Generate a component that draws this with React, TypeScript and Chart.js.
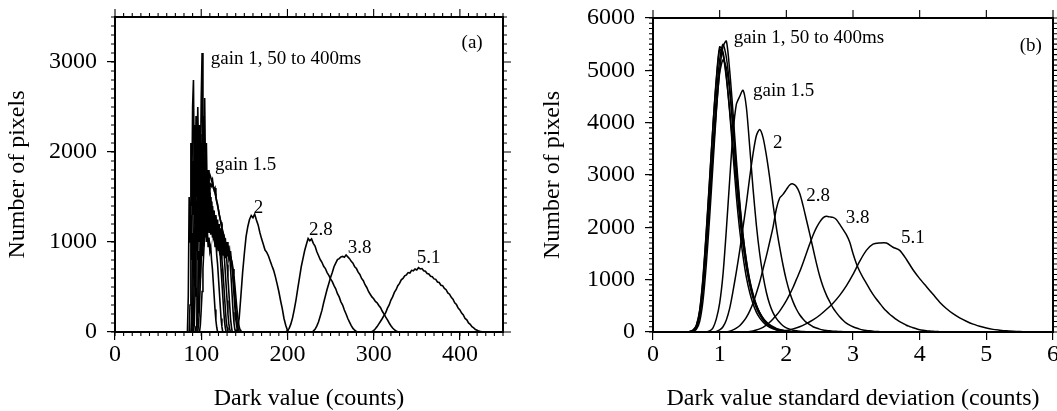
import React, { useEffect, useRef } from "react";
import { Chart, registerables } from "chart.js";

Chart.register(...registerables);

const FONT = '"Liberation Serif", "Times New Roman", serif';

// ---------------- Panel (a): dark value histograms ----------------
const aXTicks = [0, 100, 200, 300, 400];
const aYTicks = [0, 1000, 2000, 3000];

// gain 1 (50 to 400 ms) curves, 1-count bins
const aGain1Start = [84, 86, 88, 89, 90, 91, 93, 94];
const aGain1_1 = [0, 400, 1500, 1000, 2100, 1400, 2500, 2800, 1600, 2300, 1700, 2100, 1500, 1900, 1400, 1700, 1300, 1550, 1200, 1400, 1100, 1250, 1000, 1150, 950, 1050, 900, 950, 800, 700, 550, 400, 250, 130, 50, 0];
const aGain1_2 = [0, 300, 1300, 800, 1900, 1300, 2200, 1600, 2400, 1800, 2500, 1900, 2300, 1700, 2600, 3100, 1800, 2200, 1500, 1900, 1400, 1700, 1300, 1500, 1200, 1350, 1100, 1200, 1050, 1100, 950, 1000, 850, 750, 600, 450, 300, 150, 60, 0];
const aGain1_3 = [0, 200, 1100, 700, 1700, 1200, 2000, 1500, 2200, 1600, 2300, 1800, 2100, 1700, 2400, 2000, 2600, 1700, 2100, 1500, 1800, 1400, 1600, 1300, 1450, 1200, 1300, 1100, 1200, 1000, 1100, 950, 1000, 900, 850, 700, 550, 400, 250, 120, 40, 0];
const aGain1_4 = [0, 150, 900, 600, 1500, 1100, 1800, 1400, 2000, 1500, 2100, 1600, 2200, 1700, 2000, 1600, 1900, 1500, 1800, 1400, 1650, 1300, 1500, 1200, 1350, 1100, 1250, 1000, 1150, 950, 1050, 900, 1000, 850, 950, 800, 700, 550, 400, 250, 120, 50, 0];
const aGain1_5 = [0, 100, 700, 500, 1300, 900, 1600, 1200, 1800, 1300, 1900, 1400, 2000, 1500, 1850, 1400, 1750, 1350, 1650, 1300, 1550, 1250, 1450, 1200, 1350, 1100, 1250, 1050, 1150, 1000, 1100, 950, 1050, 900, 1000, 850, 950, 800, 650, 500, 350, 200, 90, 30, 0];
const aGain1_6 = [0, 80, 500, 400, 1100, 800, 1400, 1000, 1600, 1150, 1700, 1250, 1750, 1300, 1700, 1300, 1650, 1250, 1600, 1200, 1500, 1150, 1400, 1100, 1300, 1050, 1250, 1000, 1150, 950, 1100, 900, 1050, 880, 1000, 850, 950, 820, 900, 750, 600, 450, 300, 150, 60, 0];
const aGain1_7 = [0, 60, 400, 300, 900, 650, 1200, 900, 1400, 1000, 1500, 1100, 1550, 1150, 1550, 1150, 1500, 1100, 1450, 1100, 1400, 1050, 1350, 1050, 1300, 1000, 1250, 980, 1200, 950, 1150, 920, 1100, 900, 1050, 870, 1000, 850, 950, 820, 880, 700, 550, 380, 220, 100, 30, 0];
const aGain1_8 = [0, 50, 300, 250, 800, 600, 1100, 850, 1300, 950, 1400, 1050, 1450, 1100, 1450, 1100, 1400, 1080, 1380, 1050, 1330, 1020, 1280, 1000, 1230, 980, 1180, 950, 1150, 930, 1100, 900, 1080, 880, 1040, 860, 1000, 840, 960, 820, 900, 780, 700, 560, 420, 280, 150, 70, 20, 0];
const aGain1 = [aGain1_1, aGain1_2, aGain1_3, aGain1_4, aGain1_5, aGain1_6, aGain1_7, aGain1_8];

// gain 1.5 curves, 1-count bins
const aGain15Start = [96, 98];
const aGain15_1 = [0, 100, 300, 550, 800, 1000, 1150, 1300, 1400, 1500, 1580, 1650, 1620, 1700, 1750, 1720, 1680, 1700, 1620, 1580, 1600, 1500, 1450, 1420, 1350, 1300, 1250, 1220, 1150, 1100, 1080, 1030, 1000, 970, 950, 920, 900, 870, 840, 800, 720, 620, 500, 380, 260, 160, 80, 30, 10, 0];
const aGain15_2 = [0, 80, 250, 450, 700, 900, 1080, 1220, 1330, 1420, 1500, 1560, 1600, 1640, 1620, 1660, 1600, 1580, 1540, 1500, 1450, 1400, 1360, 1300, 1260, 1200, 1160, 1120, 1080, 1040, 1000, 970, 940, 910, 880, 860, 830, 800, 760, 700, 620, 520, 410, 300, 200, 120, 60, 25, 8, 0, 0];
const aGain15 = [aGain15_1, aGain15_2];

// higher gains, 2-count bins
const aGain2Start = 140;
const aGain2 = [0, 30, 150, 400, 660, 870, 1060, 1170, 1250, 1295, 1270, 1310, 1245, 1190, 1105, 1035, 975, 910, 885, 845, 790, 735, 685, 615, 535, 450, 350, 260, 150, 75, 20, 0];
const aGain28Start = 198;
const aGain28 = [0, 15, 40, 90, 160, 255, 360, 485, 605, 725, 815, 905, 975, 1040, 1015, 1035, 985, 955, 895, 850, 805, 775, 730, 705, 660, 630, 590, 560, 515, 480, 425, 390, 335, 300, 245, 200, 150, 110, 70, 40, 20, 5, 0];
const aGain38Start = 228;
const aGain38 = [0, 10, 30, 65, 110, 175, 240, 325, 400, 475, 540, 605, 660, 725, 765, 805, 815, 835, 840, 830, 855, 835, 815, 785, 765, 725, 705, 665, 640, 595, 570, 525, 495, 450, 420, 390, 370, 340, 325, 295, 270, 230, 200, 165, 135, 100, 70, 45, 25, 10, 3, 0];
const aGain51Start = 296;
const aGain51 = [0, 5, 15, 35, 60, 90, 120, 150, 185, 215, 265, 300, 355, 390, 440, 470, 515, 540, 580, 595, 625, 635, 660, 655, 685, 680, 700, 690, 715, 700, 705, 680, 675, 650, 645, 620, 615, 590, 585, 555, 550, 520, 515, 485, 470, 435, 420, 385, 365, 325, 305, 265, 245, 210, 190, 150, 135, 100, 85, 58, 45, 28, 20, 10, 6, 2, 0];

const aLabels = ["gain 1, 50 to 400ms", "gain 1.5", "2", "2.8", "3.8", "5.1", "(a)"];
const aLabelX = [111, 116, 161, 225, 270, 350, 402];
const aLabelY = [3030, 1855, 1380, 1135, 930, 820, 3210];

// ---------------- Panel (b): dark value standard deviation ----------------
const bXTicks = [0, 1, 2, 3, 4, 5, 6];
const bYTicks = [0, 1000, 2000, 3000, 4000, 5000, 6000];

const bGain1Start = 0.5;
const bGain1_1 = [0, 8, 30, 120, 400, 1000, 1900, 2900, 3950, 4850, 5450, 5350, 4900, 4200, 3400, 2600, 1950, 1450, 1050, 760, 540, 380, 270, 190, 130, 90, 60, 40, 28, 18, 12, 7, 4, 2, 0];
const bGain1_2 = [0, 5, 20, 80, 300, 800, 1600, 2550, 3550, 4500, 5200, 5500, 5250, 4700, 3900, 3050, 2300, 1700, 1250, 900, 650, 460, 330, 230, 160, 110, 75, 50, 35, 25, 15, 10, 5, 2, 0];
const bGain1_3 = [0, 3, 12, 50, 200, 600, 1300, 2200, 3200, 4200, 5000, 5450, 5560, 5000, 4200, 3300, 2500, 1850, 1350, 980, 700, 500, 360, 250, 170, 120, 80, 55, 38, 26, 17, 11, 6, 3, 0];
const bGain1_4 = [0, 6, 25, 100, 350, 850, 1650, 2500, 3400, 4250, 4950, 5200, 5050, 4600, 3900, 3150, 2450, 1850, 1380, 1000, 730, 520, 370, 260, 180, 125, 85, 58, 40, 27, 18, 11, 6, 3, 0];
const bGain1_5 = [0, 10, 35, 130, 420, 1050, 1950, 2950, 3950, 4800, 5400, 5300, 4850, 4250, 3550, 2850, 2200, 1680, 1270, 950, 700, 510, 370, 270, 195, 140, 100, 70, 50, 35, 24, 15, 9, 4, 0];
const bGain1 = [bGain1_1, bGain1_2, bGain1_3, bGain1_4, bGain1_5];

const bGain15Start = 0.8;
const bGain15 = [0, 20, 80, 250, 550, 1100, 1950, 2900, 3800, 4350, 4500, 4620, 4300, 3550, 2750, 2050, 1500, 1080, 760, 530, 370, 260, 180, 120, 80, 55, 35, 22, 14, 8, 4, 2, 0];
const bGain2Start = 0.9;
const bGain2 = [0, 10, 40, 100, 230, 450, 780, 1150, 1550, 2000, 2450, 2950, 3400, 3750, 3870, 3720, 3380, 2950, 2450, 2000, 1620, 1280, 990, 760, 580, 440, 330, 250, 185, 140, 100, 75, 55, 40, 30, 22, 16, 12, 9, 6, 4, 2, 0];
const bGain28Start = 1.1;
const bGain28 = [0, 15, 40, 75, 120, 190, 280, 400, 550, 740, 950, 1200, 1450, 1720, 2000, 2350, 2560, 2630, 2720, 2810, 2830, 2780, 2650, 2420, 2150, 1880, 1600, 1320, 1070, 870, 710, 580, 460, 370, 290, 225, 170, 130, 100, 75, 55, 40, 30, 22, 15, 10, 7, 4, 2, 1, 0];
const bGain38Start = 1.4;
const bGain38 = [0, 8, 20, 38, 60, 90, 130, 185, 250, 320, 400, 495, 600, 720, 850, 1000, 1150, 1320, 1500, 1680, 1850, 1990, 2100, 2180, 2210, 2200, 2190, 2150, 2060, 1960, 1860, 1720, 1500, 1310, 1160, 1040, 930, 820, 720, 630, 550, 470, 400, 340, 290, 240, 200, 165, 130, 105, 80, 62, 45, 34, 25, 19, 14, 10, 7, 5, 3, 2, 1, 0, 0];
const bGain51Start = 1.8;
const bGain51 = [0, 15, 30, 60, 100, 160, 230, 320, 430, 550, 700, 880, 1100, 1350, 1560, 1680, 1700, 1700, 1620, 1560, 1390, 1190, 1020, 870, 720, 570, 450, 350, 270, 205, 150, 110, 75, 50, 35, 22, 14, 8, 5, 2, 0];

const bLabels = ["gain 1, 50 to 400ms", "gain 1.5", "2", "2.8", "3.8", "5.1", "(b)"];
const bLabelX = [1.21, 1.5, 1.8, 2.3, 2.89, 3.72, 5.5];
const bLabelY = [5620, 4600, 3610, 2590, 2180, 1800, 5460];

// ------------------------------------------------------------------
type Pt = { x: number; y: number };
function toPoints(start: number, step: number, values: number[]): Pt[] {
  return values.map((v, i) => ({ x: Math.round((start + i * step) * 1000) / 1000, y: v }));
}

function lineDs(data: Pt[], smooth: boolean) {
  return {
    data,
    borderColor: "#000",
    borderWidth: smooth ? 1.5 : 1.6,
    pointRadius: 0,
    fill: false,
    tension: smooth ? 0.25 : 0,
  };
}

type FrameSpec = {
  xMinor: number | null;
  topMinor: number | null;
  topMajor: number;
  yMinor: number;
  rightMajor: number;
  labels: string[];
  lx: number[];
  ly: number[];
};

function framePlugin(spec: FrameSpec) {
  return {
    id: "frameAndNotes",
    afterDraw(chart: any) {
      const { ctx, chartArea: a, scales } = chart;
      const xs = scales.x;
      const ys = scales.y;
      ctx.save();
      ctx.strokeStyle = "#000";
      ctx.lineWidth = 2;
      ctx.beginPath();
      ctx.moveTo(a.left - 1, a.top);
      ctx.lineTo(a.right, a.top);
      ctx.lineTo(a.right, a.bottom + 1);
      ctx.stroke();

      ctx.lineWidth = 1.1;
      ctx.beginPath();
      const xSteps = (step: number, fn: (px: number) => void) => {
        const n = Math.round((xs.max - xs.min) / step);
        for (let i = 0; i <= n; i++) fn(xs.getPixelForValue(xs.min + i * step));
      };
      const ySteps = (step: number, fn: (py: number) => void) => {
        const n = Math.round((ys.max - ys.min) / step);
        for (let i = 0; i <= n; i++) fn(ys.getPixelForValue(ys.min + i * step));
      };
      if (spec.xMinor) {
        xSteps(spec.xMinor, (px) => {
          ctx.moveTo(px, a.bottom);
          ctx.lineTo(px, a.bottom + 4);
        });
      }
      if (spec.topMinor) {
        xSteps(spec.topMinor, (px) => {
          ctx.moveTo(px, a.top);
          ctx.lineTo(px, a.top - 4);
        });
      }
      xSteps(spec.topMajor, (px) => {
        ctx.moveTo(px, a.top);
        ctx.lineTo(px, a.top - 8);
      });
      ySteps(spec.yMinor, (py) => {
        ctx.moveTo(a.left, py);
        ctx.lineTo(a.left - 4, py);
      });
      ySteps(spec.yMinor, (py) => {
        ctx.moveTo(a.right, py);
        ctx.lineTo(a.right + 4, py);
      });
      ySteps(spec.rightMajor, (py) => {
        ctx.moveTo(a.right, py);
        ctx.lineTo(a.right + 8, py);
      });
      ctx.stroke();

      ctx.fillStyle = "#000";
      ctx.font = `19px ${FONT}`;
      ctx.textAlign = "left";
      ctx.textBaseline = "middle";
      spec.labels.forEach((t, i) => {
        ctx.fillText(t, xs.getPixelForValue(spec.lx[i]), ys.getPixelForValue(spec.ly[i]));
      });
      ctx.restore();
    },
  };
}

function fitX(h: number) {
  return (s: any) => {
    s.height = h;
    s.paddingLeft = 0;
    s.paddingRight = 0;
  };
}
function fitY(w: number) {
  return (s: any) => {
    s.width = w;
    s.paddingTop = 0;
    s.paddingBottom = 0;
  };
}

function axisOpts(
  min: number,
  max: number,
  ticks: number[],
  title: string,
  fit: (s: any) => void,
  titlePad: any,
  tickPad: number
) {
  return {
    type: "linear" as const,
    min,
    max,
    afterFit: fit,
    afterBuildTicks: (s: any) => {
      s.ticks = ticks.map((v) => ({ value: v }));
    },
    ticks: {
      autoSkip: false,
      maxRotation: 0,
      minRotation: 0,
      color: "#000",
      font: { family: FONT, size: 24 },
      padding: tickPad,
      callback: (v: any) => String(v),
    },
    grid: {
      display: true,
      drawOnChartArea: false,
      drawTicks: true,
      tickLength: 8,
      color: "#000",
      lineWidth: 1.2,
    },
    border: { display: true, color: "#000", width: 2 },
    title: {
      display: true,
      text: title,
      color: "#000",
      font: { family: FONT, size: 24, lineHeight: 1 },
      padding: titlePad,
    },
  };
}

export default function App() {
  const refA = useRef<HTMLCanvasElement>(null);
  const refB = useRef<HTMLCanvasElement>(null);

  useEffect(() => {
    const dsA: any[] = [];
    aGain1.forEach((vals, i) => dsA.push(lineDs(toPoints(aGain1Start[i], 1, vals), false)));
    aGain15.forEach((vals, i) => dsA.push(lineDs(toPoints(aGain15Start[i], 1, vals), false)));
    dsA.push(lineDs(toPoints(aGain2Start, 2, aGain2), false));
    dsA.push(lineDs(toPoints(aGain28Start, 2, aGain28), false));
    dsA.push(lineDs(toPoints(aGain38Start, 2, aGain38), false));
    dsA.push(lineDs(toPoints(aGain51Start, 2, aGain51), false));

    const chartA = new Chart(refA.current as HTMLCanvasElement, {
      type: "line",
      data: { datasets: dsA },
      options: {
        animation: false,
        responsive: false,
        maintainAspectRatio: false,
        layout: { padding: { left: 0, top: 17, right: 37, bottom: 0 } },
        plugins: { legend: { display: false }, tooltip: { enabled: false } },
        scales: {
          x: axisOpts(0, 450, aXTicks, "Dark value (counts)", fitX(79), { top: 0, bottom: 0 }, 0),
          y: axisOpts(0, 3500, aYTicks, "Number of pixels", fitY(115), { top: 6, bottom: 0 }, 10),
        },
      } as any,
      plugins: [
        framePlugin({
          xMinor: 10,
          topMinor: 10,
          topMajor: 100,
          yMinor: 100,
          rightMajor: 1000,
          labels: aLabels,
          lx: aLabelX,
          ly: aLabelY,
        }),
      ],
    });

    const dsB: any[] = [];
    bGain1.forEach((vals) => dsB.push(lineDs(toPoints(bGain1Start, 0.05, vals), true)));
    dsB.push(lineDs(toPoints(bGain15Start, 0.05, bGain15), true));
    dsB.push(lineDs(toPoints(bGain2Start, 0.05, bGain2), true));
    dsB.push(lineDs(toPoints(bGain28Start, 0.05, bGain28), true));
    dsB.push(lineDs(toPoints(bGain38Start, 0.05, bGain38), true));
    dsB.push(lineDs(toPoints(bGain51Start, 0.1, bGain51), true));

    const chartB = new Chart(refB.current as HTMLCanvasElement, {
      type: "line",
      data: { datasets: dsB },
      options: {
        animation: false,
        responsive: false,
        maintainAspectRatio: false,
        layout: { padding: { left: 0, top: 18, right: 47, bottom: 0 } },
        plugins: { legend: { display: false }, tooltip: { enabled: false } },
        scales: {
          x: axisOpts(0, 6, bXTicks, "Dark value standard deviation (counts)", fitX(79), { top: 0, bottom: 0 }, 0),
          y: axisOpts(0, 6000, bYTicks, "Number of pixels", fitY(113), { top: 1, bottom: 0 }, 10),
        },
      } as any,
      plugins: [
        framePlugin({
          xMinor: null,
          topMinor: null,
          topMajor: 1,
          yMinor: 100,
          rightMajor: 1000,
          labels: bLabels,
          lx: bLabelX,
          ly: bLabelY,
        }),
      ],
    });

    return () => {
      chartA.destroy();
      chartB.destroy();
    };
  }, []);

  return (
    <div
      style={{
        position: "fixed",
        left: 0,
        top: 0,
        width: 1057,
        height: 411,
        overflow: "hidden",
        background: "#fff",
      }}
    >
      <canvas ref={refA} width={540} height={411} style={{ position: "absolute", left: 0, top: 0 }} />
      <canvas ref={refB} width={560} height={411} style={{ position: "absolute", left: 540, top: 0 }} />
    </div>
  );
}
